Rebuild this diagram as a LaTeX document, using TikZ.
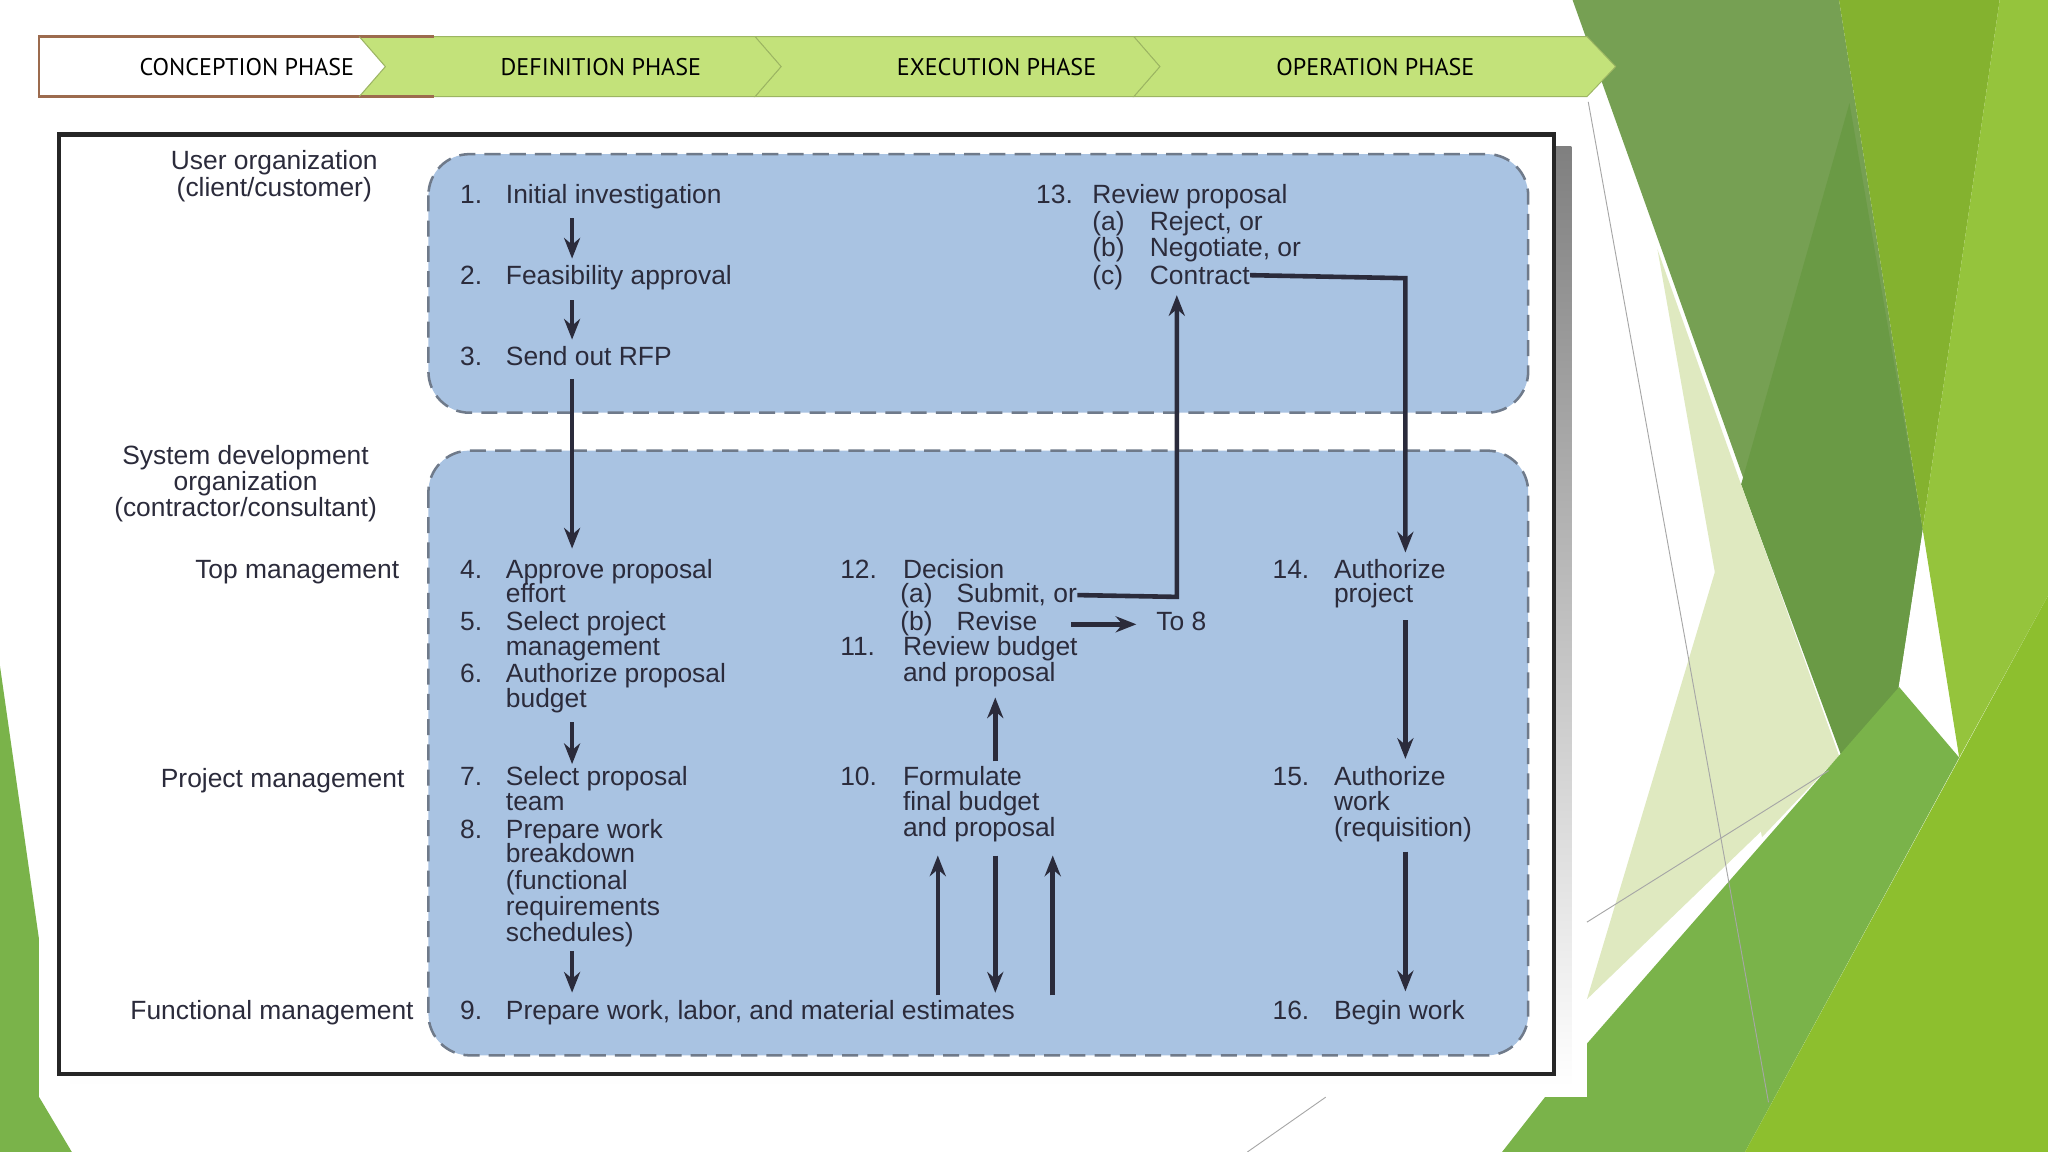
\documentclass[tikz,border=0pt]{standalone}
\usepackage{fontspec}
\setmainfont{Liberation Sans}
\newfontfamily\ptsans{PT Sans}
\usetikzlibrary{arrows.meta}
\definecolor{olive}{HTML}{76A053}
\definecolor{olived}{HTML}{6A9A45}
\definecolor{grn}{HTML}{84B22F}
\definecolor{grnl}{HTML}{95C43C}
\definecolor{grnb}{HTML}{8DBF2E}
\definecolor{grnm}{HTML}{7AB34A}
\definecolor{pale}{HTML}{DFE9C0}
\definecolor{chev}{HTML}{C3E27A}
\definecolor{boxfill}{HTML}{A9C3E2}
\definecolor{boxline}{HTML}{6F7A8A}
\definecolor{txtc}{HTML}{2B2B3B}
\definecolor{shade}{HTML}{B9C9EA}
\definecolor{brown}{HTML}{9C6B4E}
\tikzset{
  txt/.style={inner sep=0pt, anchor=mid west, text=txtc, font=\fontsize{11.5}{12}\selectfont},
  lab/.style={inner sep=0pt, anchor=mid east, text=txtc, font=\fontsize{11.5}{12}\selectfont},
  labc/.style={inner sep=0pt, anchor=mid, text=txtc, font=\fontsize{11.5}{12}\selectfont},
  phasetxt/.style={inner sep=0pt, text=black, font=\ptsans\fontsize{10.5}{12}\selectfont},
  chevshape/.style={fill=chev, draw=chev!80!black, line width=0.4pt},
  region/.style={fill=boxfill, draw=boxline, dashed, dash pattern=on 7pt off 4pt, line width=1.1pt, rounded corners=18pt},
  arr/.style={-{Stealth[length=9pt,width=7pt]}, line width=2pt, draw=txtc},
  gline/.style={draw=gray!70, line width=0.4pt}
}
\begin{document}
\begin{tikzpicture}[x=0.2mm,y=-0.2mm]
\useasboundingbox (0,0) rectangle (1568,882);
\fill[white] (0,0) rectangle (1568,882);
% background decoration
\fill[olive] (1204,0) -- (1408,0) -- (1472,405) -- (1435,647) -- cycle;
\fill[olived] (1416,79) -- (1333,371) -- (1435,647) -- (1472,405) -- cycle;
\fill[grn] (1408,0) -- (1531,0) -- (1472,405) -- cycle;
\fill[grnl] (1531,0) -- (1568,0) -- (1568,456) -- (1472,405) -- cycle;
\fill[grnl] (1472,405) -- (1568,400) -- (1568,456) -- (1500,580) -- cycle;
\fill[pale] (1269,191) -- (1349,641) -- (1408,579) -- (1333,371) -- cycle;
\fill[pale] (1215,765) -- (1333,371) -- (1408,579) -- cycle;
\fill[grnm] (1215,799) -- (1454,526) -- (1500,580) -- (1336,882) -- (1150,882) -- cycle;
\fill[grnb] (1336,882) -- (1568,456) -- (1568,882) -- cycle;
\fill[grnm] (0,510) -- (30,720) -- (30,840) -- (55,882) -- (0,882) -- cycle;
\fill[white] (30,80) rectangle (1215,840);
\draw[gline] (1216,78) -- (1354,844);
\draw[gline] (1215,706) -- (1400,590);
\draw[gline] (955,882) -- (1015,840);
% phases
\draw[chevshape] (868,28) -- (1215,28) -- (1237,51) -- (1215,74) -- (868,74) -- (888,51) -- cycle;
\draw[chevshape] (578,28) -- (868,28) -- (888,51) -- (868,74) -- (578,74) -- (598,51) -- cycle;
\draw[chevshape] (275,28) -- (578,28) -- (598,51) -- (578,74) -- (275,74) -- (295,51) -- cycle;
\fill[white] (30,28) -- (275,28) -- (295,51) -- (275,74) -- (30,74) -- cycle;
\draw[brown, line width=1pt] (332,28) -- (30,28) -- (30,74) -- (332,74);
\draw[chev!80!black, line width=0.4pt] (275,28) -- (295,51) -- (275,74);
\node[phasetxt] (p1) at (189,51) {CONCEPTION PHASE};
\node[phasetxt] (p2) at (460,51) {DEFINITION PHASE};
\node[phasetxt] (p3) at (763,51) {EXECUTION PHASE};
\node[phasetxt] (p4) at (1053,51) {OPERATION PHASE};
% frame
\fill[shade] (54,112) rectangle (1203,832);
\draw[line width=1.8pt, fill=white, draw=black!85] (45,103) rectangle (1190,822);
\draw[region] (328,118) rectangle (1170,316);
\draw[region] (328,345) rectangle (1170,808);
% left labels
\node[labc] (u1) at (210,125) {User organization};
\node[labc] (u2) at (210,146) {(client/customer)};
\node[labc] (s1) at (188,351) {System development};
\node[labc] (s2) at (188,371) {organization};
\node[labc] (s3) at (188,391) {(contractor/consultant)};
\node[lab] (tm) at (306,438) {Top management};
\node[lab] (pm) at (310,598) {Project management};
\node[lab] (fm) at (317,776) {Functional management};
% numbers column 1
\foreach \n/\y in {1./151,2./213,3./275,4./438,5./478,6./518,7./597,8./637,9./776}
  \node[txt] at (352,\y) {\n};
\node[txt] (n1) at (387,151) {Initial investigation};
\node[txt] (n2) at (387,213) {Feasibility approval};
\node[txt] (n3) at (387,275) {Send out RFP};
\node[txt] (n4) at (387,438) {Approve proposal};
\node[txt] at (387,457) {effort};
\node[txt] (n5) at (387,478) {Select project};
\node[txt] at (387,497) {management};
\node[txt] (n6) at (387,518) {Authorize proposal};
\node[txt] (n6b) at (387,537) {budget};
\node[txt] (n7) at (387,597) {Select proposal};
\node[txt] at (387,616) {team};
\node[txt] (n8) at (387,637) {Prepare work};
\node[txt] at (387,656) {breakdown};
\node[txt] at (387,676) {(functional};
\node[txt] at (387,696) {requirements};
\node[txt] (n8e) at (387,716) {schedules)};
\node[txt] (n9) at (387,776) {Prepare work, labor, and material estimates};
% column 2
\node[txt] at (643,438) {12.};
\node[txt] (n12) at (691,438) {Decision};
\node[txt] at (689,457) {(a)};
\node[txt] (n12a) at (732,457) {Submit, or};
\node[txt] at (689,478) {(b)};
\node[txt] (n12b) at (732,478) {Revise};
\node[txt] (to8) at (885,478) {To 8};
\node[txt] at (643,497) {11.};
\node[txt] (n11) at (691,497) {Review budget};
\node[txt] at (691,517) {and proposal};
\node[txt] at (643,597) {10.};
\node[txt] (n10) at (691,597) {Formulate};
\node[txt] at (691,616) {final budget};
\node[txt] at (691,636) {and proposal};
% column 3
\node[txt] at (793,151) {13.};
\node[txt] (n13) at (836,151) {Review proposal};
\node[txt] at (836,172) {(a)};
\node[txt] at (880,172) {Reject, or};
\node[txt] at (836,192) {(b)};
\node[txt] at (880,192) {Negotiate, or};
\node[txt] at (836,213) {(c)};
\node[txt] (n13c) at (880,213) {Contract};
% column 4
\node[txt] at (974,438) {14.};
\node[txt] (n14) at (1021,438) {Authorize};
\node[txt] at (1021,457) {project};
\node[txt] at (974,597) {15.};
\node[txt] (n15) at (1021,597) {Authorize};
\node[txt] at (1021,616) {work};
\node[txt] at (1021,636) {(requisition)};
\node[txt] at (974,776) {16.};
\node[txt] (n16) at (1021,776) {Begin work};
% arrows
\draw[arr] (438,167) -- (438,198);
\draw[arr] (438,230) -- (438,260);
\draw[arr] (438,290) -- (438,420);
\draw[arr] (438,553) -- (438,585);
\draw[arr] (438,728) -- (438,760);
\draw[arr] (762,583) -- (762,534);
\draw[arr] (718,762) -- (718,655);
\draw[arr] (762,655) -- (762,760);
\draw[arr] (806,762) -- (806,655);
\draw[arr] (n12a.east) -- (901,457) -- (901,226);
\draw[arr] (n13c.east) -- (1076,213) -- (1076,423);
\draw[arr] (1076,475) -- (1076,581);
\draw[arr] (1076,652) -- (1076,759);
\draw[arr] (820,478) -- (870,478);
\end{tikzpicture}
\end{document}
